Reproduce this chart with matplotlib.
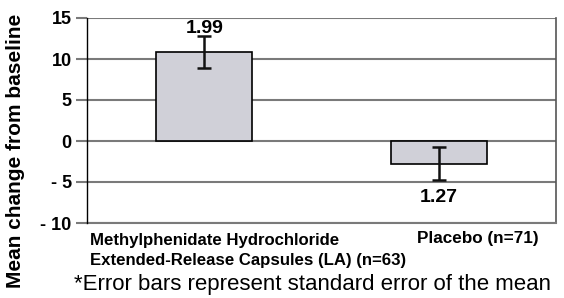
import matplotlib
matplotlib.use("Agg")
import matplotlib.pyplot as plt

cat_lines = ["Methylphenidate Hydrochloride", "Extended-Release Capsules (LA) (n=63)"]
placebo_label = "Placebo (n=71)"
means = [10.8, -2.75]
errors = [1.95, 1.97]
err_labels = ["1.99", "1.27"]
yticks = [15, 10, 5, 0, -5, -10]
ytick_labels = ["15", "10", "5", "0", "- 5", "- 10"]

plt.rcParams['font.family'] = ['Liberation Sans', 'DejaVu Sans']

W, H = 564, 298
fig = plt.figure(figsize=(W/100, H/100), dpi=100)
ax = fig.add_axes([87/W, 1-223/H, (556-87)/W, (223-18)/H])

x = [0, 1]
ax.bar(x, means, width=0.41, color='#d0d0d8', edgecolor='black', linewidth=1.2, zorder=3)
ax.errorbar(x, means, yerr=errors, fmt='none', ecolor='#111111', elinewidth=1.8,
            capsize=4.8, capthick=1.8, zorder=4)

ax.set_xlim(-0.5, 1.5)
ax.set_ylim(-10, 15)
ax.set_yticks(yticks)
ax.set_yticklabels(ytick_labels, fontsize=13, fontweight='bold')
ax.yaxis.grid(True, color='#7a7a7a', linewidth=1.5, zorder=0)
ax.tick_params(axis='y', length=8, width=1.5, color='#7a7a7a', pad=3)
ax.set_xticks([])

ax.spines['top'].set_visible(False)
ax.spines['left'].set_color('black')
ax.spines['left'].set_linewidth(1.0)
ax.spines['left'].set_zorder(5)
ax.spines['right'].set_color('#555555')
ax.spines['right'].set_linewidth(1.2)
ax.spines['bottom'].set_color('#7a7a7a')
ax.spines['bottom'].set_linewidth(1.5)

# value labels
ax.text(x[0], means[0] + errors[0] + 0.45, err_labels[0], ha='center', va='baseline',
        fontsize=14, fontweight='bold')
ax.text(x[1], means[1] - errors[1] - 2.7, err_labels[1], ha='center', va='baseline',
        fontsize=14, fontweight='bold')

# category labels
fig.text(90/W, 1-244.5/H, cat_lines[0], ha='left', va='baseline', fontsize=12.1,
         fontweight='bold')
fig.text(90/W, 1-265.5/H, cat_lines[1], ha='left', va='baseline', fontsize=12.1,
         fontweight='bold')
fig.text(478/W, 1-243/H, placebo_label, ha='center', va='baseline', fontsize=12.3,
         fontweight='bold')
fig.text(313/W, 1-290/H, "*Error bars represent standard error of the mean",
         ha='center', va='baseline', fontsize=16)

fig.text(16/W, 1-151/H, "Mean change from baseline", rotation=90, ha='center',
         va='center', fontsize=15, fontweight='bold')

fig.savefig("out.png", dpi=100)
